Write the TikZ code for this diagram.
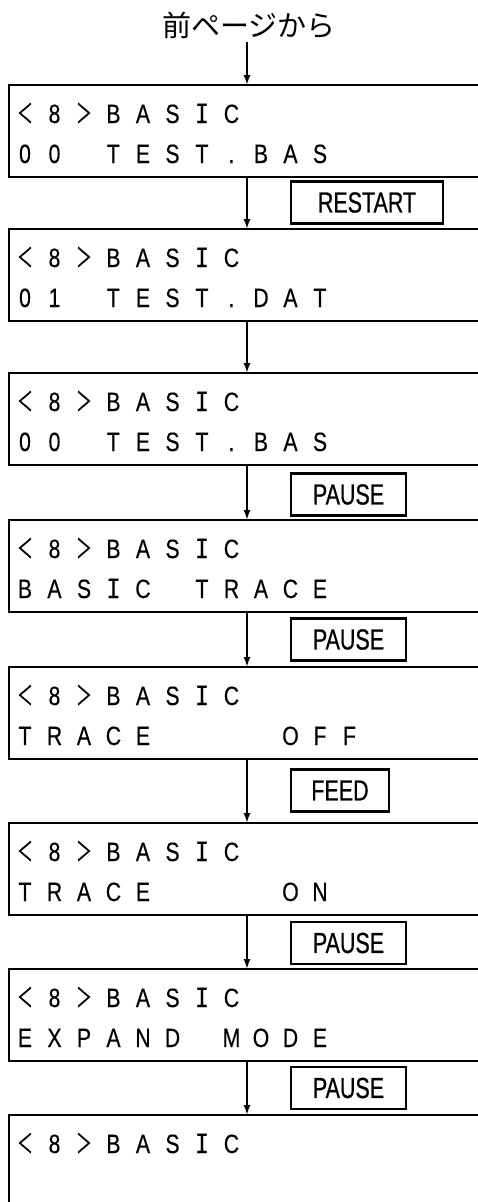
\documentclass[tikz,border=0pt]{standalone}
\usepackage{fontspec}
\usepackage{graphicx}
\setmainfont{Liberation Sans}
\newfontfamily\lcdfont[FakeStretch=0.8,FakeBold=0.3]{Liberation Sans}
\newfontfamily\lcdIfont[FakeStretch=0.88,FakeBold=0.3]{DejaVu Sans Mono}
\newfontfamily\lcdBfont[FakeStretch=0.6,FakeBold=0.4]{Noto Sans CJK JP}
\newfontfamily\keyfont[FakeStretch=0.74,FakeBold=0.6]{Liberation Sans}
\newfontfamily\jpfont{Noto Sans CJK JP}
\usetikzlibrary{arrows.meta,calc}
\newlength\lcdpitch
\setlength\lcdpitch{29.5pt}
\def\lcdglyph#1{\ifx I#1{\lcdIfont I}\else\ifx <#1{\lcdBfont ＜}\else\ifx >#1{\lcdBfont ＞}\else#1\fi\fi\fi}
\def\lcdloop#1{\ifx\relax#1\else\makebox[\lcdpitch]{\lcdglyph{#1}}\expandafter\lcdloop\fi}
\newcommand\lcdline[1]{\lcdloop#1\relax}
\tikzset{
  lcdbox/.style={draw, line width=2.3pt, anchor=north west, minimum width=480pt,
    minimum height=92pt, inner sep=0pt, outer sep=0pt},
  lcdtext/.style={anchor=base west, inner sep=0pt, outer sep=0pt,
    font=\lcdfont\fontsize{26.5}{26.5}\selectfont},
  keybox/.style={draw, line width=2.6pt, minimum height=42pt, inner sep=0pt,
    outer sep=0pt, font=\keyfont\fontsize{29}{29}\selectfont},
  arr/.style={line width=1.8pt, -{Latex[length=10pt,width=7pt]}},
}
\begin{document}
\begin{tikzpicture}[x=1pt,y=-1pt]
\clip (0,0) rectangle (478,1202);
\fill[white] (0,0) rectangle (478,1202);
\coordinate (ax) at (247,0);
\node[font=\jpfont\fontsize{29}{29}\selectfont, inner sep=0pt] (title) at (249,25.5) {前ページから};
\coordinate (tstart) at (247,42);

\foreach \n/\y in {1/85, 2/229, 3/373, 4/520, 5/667, 6/823, 7/969}{
  \node[lcdbox] (b\n) at (9,\y) {};
}
\node[lcdbox, minimum height=110pt] (b8) at (9,1115) {};

\node[lcdtext] (t1a) at ($(b1.north west)+(1.25,38)$) {\lcdline{<8>BASIC}};
\node[lcdtext] (t1b) at ($(b1.north west)+(1.25,78)$) {\lcdline{00~TEST.BAS}};
\node[lcdtext] (t2a) at ($(b2.north west)+(1.25,38)$) {\lcdline{<8>BASIC}};
\node[lcdtext] (t2b) at ($(b2.north west)+(1.25,78)$) {\lcdline{01~TEST.DAT}};
\node[lcdtext] (t3a) at ($(b3.north west)+(1.25,38)$) {\lcdline{<8>BASIC}};
\node[lcdtext] (t3b) at ($(b3.north west)+(1.25,78)$) {\lcdline{00~TEST.BAS}};
\node[lcdtext] (t4a) at ($(b4.north west)+(1.25,38)$) {\lcdline{<8>BASIC}};
\node[lcdtext] (t4b) at ($(b4.north west)+(1.25,78)$) {\lcdline{BASIC~TRACE}};
\node[lcdtext] (t5a) at ($(b5.north west)+(1.25,38)$) {\lcdline{<8>BASIC}};
\node[lcdtext] (t5b) at ($(b5.north west)+(1.25,78)$) {\lcdline{TRACE~~~~OFF}};
\node[lcdtext] (t6a) at ($(b6.north west)+(1.25,38)$) {\lcdline{<8>BASIC}};
\node[lcdtext] (t6b) at ($(b6.north west)+(1.25,78)$) {\lcdline{TRACE~~~~ON}};
\node[lcdtext] (t7a) at ($(b7.north west)+(1.25,38)$) {\lcdline{<8>BASIC}};
\node[lcdtext] (t7b) at ($(b7.north west)+(1.25,78)$) {\lcdline{EXPAND~MODE}};
\node[lcdtext] (t8a) at ($(b8.north west)+(1.25,38)$) {\lcdline{<8>BASIC}};

\node[keybox, minimum width=152pt] (k1) at (367,202.5) {RESTART};
\node[keybox, minimum width=115pt] (k2) at (348.5,494.5) {PAUSE};
\node[keybox, minimum width=115pt] (k3) at (348.5,639.5) {PAUSE};
\node[keybox, minimum width=98pt] (k4) at (340,790.5) {FEED};
\node[keybox, minimum width=115pt] (k5) at (348.5,943) {PAUSE};
\node[keybox, minimum width=115pt] (k6) at (348.5,1088) {PAUSE};

\draw[arr] (tstart) -- (b1.north -| ax);
\foreach \a/\b in {1/2, 2/3, 3/4, 4/5, 5/6, 6/7, 7/8}{
  \draw[arr] (b\a.south -| ax) -- (b\b.north -| ax);
}
\end{tikzpicture}
\end{document}
